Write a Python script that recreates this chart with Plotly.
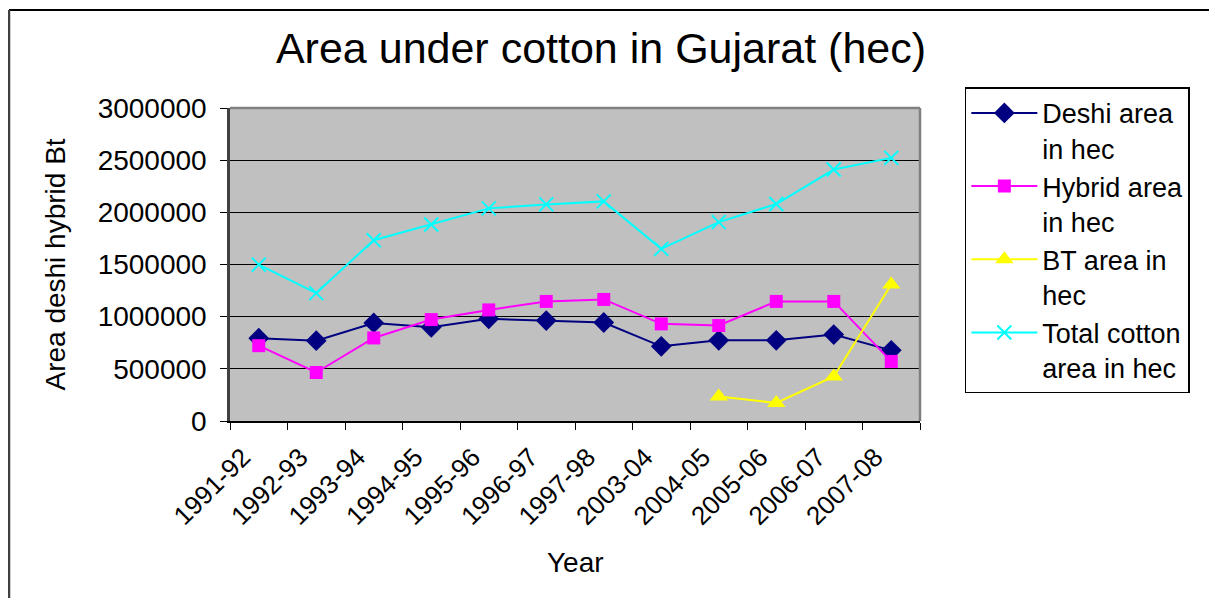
import plotly.graph_objects as go

years = ["1991-92", "1992-93", "1993-94", "1994-95", "1995-96", "1996-97",
         "1997-98", "2003-04", "2004-05", "2005-06", "2006-07", "2007-08"]
deshi = [793000, 770000, 940000, 898000, 979000, 963000, 944000, 716000, 773000, 773000, 828000, 677000]
hybrid = [722000, 465000, 796000, 972000, 1065000, 1146000, 1165000, 931000, 915000, 1146000, 1146000, 571000]
bt = [None, None, None, None, None, None, None, None, 234000, 173000, 427000, 1309000]
total = [1499000, 1226000, 1733000, 1884000, 2038000, 2076000, 2105000, 1650000, 1906000, 2080000, 2410000, 2522000]

FONT = "Liberation Sans, Arial, sans-serif"

fig = go.Figure()
fig.add_trace(go.Scatter(x=years, y=deshi, mode="lines+markers", name="Deshi area<br>in hec",
                         line=dict(color="#000080", width=2),
                         marker=dict(symbol="diamond", size=16, color="#000080")))
fig.add_trace(go.Scatter(x=years, y=hybrid, mode="lines+markers", name="Hybrid area<br>in hec",
                         line=dict(color="#FF00FF", width=2),
                         marker=dict(symbol="square", size=13, color="#FF00FF")))
fig.add_trace(go.Scatter(x=years, y=bt, mode="lines+markers", name="BT area in<br>hec",
                         line=dict(color="#FFFF00", width=2),
                         marker=dict(symbol="triangle-up", size=16, color="#FFFF00")))
fig.add_trace(go.Scatter(x=years, y=total, mode="lines+markers", name="Total cotton<br>area in hec",
                         line=dict(color="#00FFFF", width=2),
                         marker=dict(symbol="x-thin", size=14, color="#00FFFF",
                                     line=dict(color="#00FFFF", width=2))))

fig.update_layout(
    width=1209, height=590,
    margin=dict(l=222, r=297, t=100, b=177),
    paper_bgcolor="white",
    plot_bgcolor="#C0C0C0",
    font=dict(family=FONT, size=27, color="black"),
    title=dict(text="Area under cotton in Gujarat (hec)", x=0.4905, xanchor="center",
               y=0.932, yref="container", yanchor="middle",
               font=dict(family=FONT, size=43, color="black")),
    showlegend=True,
    legend=dict(x=1.065, y=1.066, xanchor="left", yanchor="top",
                bordercolor="black", borderwidth=1.5, bgcolor="white",
                font=dict(family=FONT, size=27, color="black"),
                valign="top", itemwidth=66, tracegroupgap=0, maxheight=500),
    xaxis=dict(type="category", range=[-0.5, 11.5], showgrid=False,
               tickson="boundaries", ticks="outside", ticklen=7, tickcolor="black",
               tickangle=-45, showline=True, linecolor="black", linewidth=1.5,
               ticklabelshift=-16, ticklabelstandoff=9,
               tickfont=dict(family=FONT, size=26)),
    yaxis=dict(range=[0, 3000000], dtick=500000, tickformat="d",
               showgrid=True, gridcolor="black", gridwidth=1,
               ticks="outside", ticklen=7, tickcolor="black",
               showline=True, linecolor="#404040", linewidth=2.5,
               zeroline=False, ticklabelstandoff=8,
               tickfont=dict(family=FONT, size=28)),
    annotations=[
        dict(text="Area deshi hybrid Bt", xref="paper", yref="paper",
             x=-0.2536, y=0.5, textangle=-90, showarrow=False,
             xanchor="center", yanchor="middle", font=dict(family=FONT, size=28)),
        dict(text="Year", xref="paper", yref="paper", x=0.5, y=-0.4505,
             showarrow=False, xanchor="center", yanchor="middle",
             font=dict(family=FONT, size=28)),
    ],
    shapes=[
        dict(type="line", xref="paper", yref="paper", x0=0, y0=1, x1=1, y1=1,
             line=dict(color="#808080", width=2.5), layer="above"),
        dict(type="line", xref="paper", yref="paper", x0=1, y0=0, x1=1, y1=1,
             line=dict(color="#808080", width=2.5), layer="above"),
        dict(type="line", xref="paper", yref="paper", x0=-0.3203, y0=1.3131, x1=1.5, y1=1.3131,
             line=dict(color="black", width=2)),
        dict(type="line", xref="paper", yref="paper", x0=-0.3203, y0=1.3131, x1=-0.3203, y1=-0.6,
             line=dict(color="#404040", width=2.5)),
    ],
)

fig.write_html("out.html")
